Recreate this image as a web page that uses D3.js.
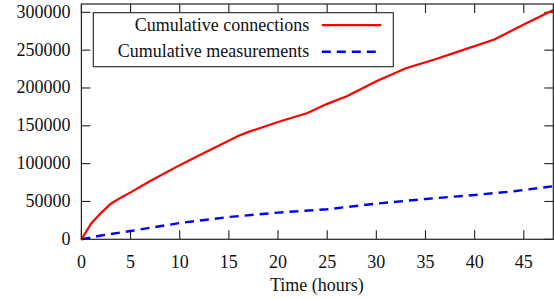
<!DOCTYPE html>
<html>
<head>
<meta charset="utf-8">
<script src="https://cdn.jsdelivr.net/npm/d3@7"></script>
<style>
  body { margin: 0; background: #fff; }
  text { font-family: "Liberation Serif", "Times New Roman", serif; font-size: 18px; fill: #111; }
</style>
</head>
<body>
<svg id="chart"></svg>
<script>
// values
let connHours = [0, 1, 2, 3, 4, 5, 7, 10, 12, 14, 16, 17, 20, 23, 25, 27, 30, 33, 36, 39, 42, 45, 48];
let connections = [0, 21000, 35000, 47000, 55000, 62000, 77000, 98000, 111000, 124000, 137000, 142000, 155000, 167000, 179000, 189000, 209000, 226000, 238000, 251000, 264000, 284000, 303000];
let measHours = [0, 1, 2, 3, 5, 10, 15, 20, 25, 30, 35, 40, 44, 48];
let measurements = [0, 2500, 5000, 7000, 11000, 21500, 29500, 35300, 39700, 47200, 53300, 58600, 63500, 70200];
let xTicks = [0, 5, 10, 15, 20, 25, 30, 35, 40, 45];
let yTicks = [0, 50000, 100000, 150000, 200000, 250000, 300000];
let seriesNames = ["Cumulative connections", "Cumulative measurements"];

let makeChart = function () {
    let W = 554, H = 299;
    let margin = {top: 4, right: 0.7, bottom: 59.7, left: 81.4};
    let width = W - margin.left - margin.right;
    let height = H - margin.top - margin.bottom;

    let svg = d3.select('#chart')
                .attr("width", W)
                .attr("height", H)
             .append("g")
                .attr("transform", "translate(" + margin.left + "," + margin.top + ")");

    let x = d3.scaleLinear().domain([0, 48]).range([0, width]);
    let y = d3.scaleLinear().domain([0, 311000]).range([height, 0]);

    let tickLen = 9;
    // tick marks on all four sides, pointing inward
    let ax = svg.append("g").attr("stroke", "#222").attr("stroke-width", 1.1);
    xTicks.forEach(function (t) {
        ax.append("line").attr("x1", x(t)).attr("x2", x(t)).attr("y1", height).attr("y2", height - tickLen);
        ax.append("line").attr("x1", x(t)).attr("x2", x(t)).attr("y1", 0).attr("y2", tickLen);
    });
    yTicks.forEach(function (t) {
        ax.append("line").attr("x1", 0).attr("x2", tickLen).attr("y1", y(t)).attr("y2", y(t));
        ax.append("line").attr("x1", width).attr("x2", width - tickLen).attr("y1", y(t)).attr("y2", y(t));
    });

    svg.selectAll(".xlab")
        .data(xTicks)
        .enter()
        .append("text")
        .attr("x", function (d) { return x(d); })
        .attr("y", height + 29)
        .attr("text-anchor", "middle")
        .text(function (d) { return d; });

    svg.selectAll(".ylab")
        .data(yTicks)
        .enter()
        .append("text")
        .attr("x", -11)
        .attr("y", function (d) { return y(d) + 5.5; })
        .attr("text-anchor", "end")
        .text(function (d) { return d; });

    svg.append("text")
        .attr("x", width / 2 - 0.5)
        .attr("y", height + 52)
        .attr("text-anchor", "middle")
        .text("Time (hours)");

    let lineConn = d3.line()
        .x(function (d, i) { return x(connHours[i]); })
        .y(function (d) { return y(d); });
    let lineMeas = d3.line()
        .x(function (d, i) { return x(measHours[i]); })
        .y(function (d) { return y(d); });

    svg.append("path")
        .datum(measurements)
        .attr("d", lineMeas)
        .attr("fill", "none")
        .attr("stroke", "#0000ff")
        .attr("stroke-width", 2.4)
        .attr("stroke-dasharray", "9,6");

    svg.append("path")
        .datum(connections)
        .attr("d", lineConn)
        .attr("fill", "none")
        .attr("stroke", "#ff0000")
        .attr("stroke-width", 2.2);

    // border
    svg.append("rect")
        .attr("x", 0).attr("y", 0)
        .attr("width", width).attr("height", height)
        .attr("fill", "none")
        .attr("stroke", "#222")
        .attr("stroke-width", 1.2);

    // legend
    let lg = svg.append("g").attr("transform", "translate(" + (93.3 - margin.left) + "," + (12.7 - margin.top) + ")");
    lg.append("rect")
        .attr("width", 300).attr("height", 54)
        .attr("fill", "#fff")
        .attr("stroke", "#222")
        .attr("stroke-width", 1.1);
    let styles = [{c: "#ff0000", dash: null, w: 2.2}, {c: "#0000ff", dash: "9,6", w: 2.4}];
    seriesNames.forEach(function (name, i) {
        let cy = 12.5 + i * 26.5;
        lg.append("text")
            .attr("x", 216)
            .attr("y", cy + 5.5)
            .attr("text-anchor", "end")
            .text(name);
        lg.append("line")
            .attr("x1", 228.5).attr("x2", 288)
            .attr("y1", cy).attr("y2", cy)
            .attr("stroke", styles[i].c)
            .attr("stroke-width", styles[i].w)
            .attr("stroke-dasharray", styles[i].dash);
    });
}

makeChart();
</script>
</body>
</html>
